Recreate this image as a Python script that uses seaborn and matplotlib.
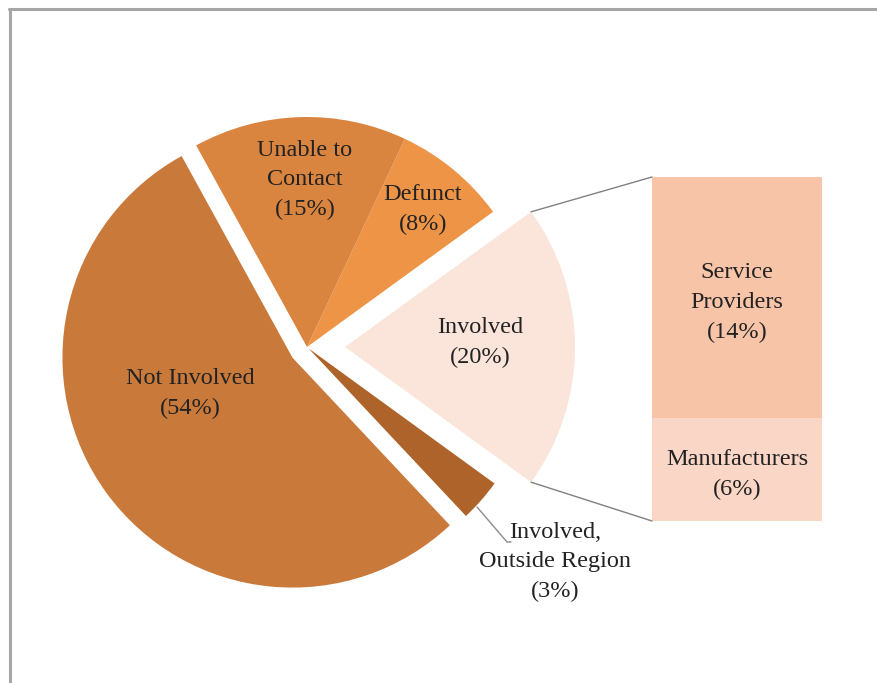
import matplotlib
matplotlib.use("Agg")
import matplotlib.pyplot as plt
from matplotlib.patches import ConnectionPatch
from matplotlib.lines import Line2D
import numpy as np
import seaborn as sns

# Survey outcome shares (percent)
pie_labels = ["Involved", "Defunct", "Unable to\nContact", "Not Involved",
              "Involved,\nOutside Region"]
pie_values = [20, 8, 15, 54, 3]
pie_colors = ["#FBE5DA", "#EE9447", "#DA853F", "#C97A3B", "#AD6329"]
pie_explode = [38, 0, 0, 18, 2]

# Breakdown of the "Involved" share
bar_labels = ["Manufacturers", "Service\nProviders"]
bar_values = [6, 14]
bar_colors = ["#FAD6C6", "#F8C4A8"]

sns.set_theme(style="white")
plt.rcParams["font.family"] = ["Liberation Serif", "DejaVu Serif"]
TEXT = "#222222"
FS = 17.5
LS = 1.55

W, H = 878, 683
fig = plt.figure(figsize=(W / 100, H / 100), dpi=100)
fig.patch.set_facecolor("white")

# Pie axes in pixel units (y up)
ax = fig.add_axes([0, 0, 1, 1])
wedges, _ = ax.pie(pie_values, colors=pie_colors, explode=pie_explode,
                   startangle=-36, counterclock=True, radius=230,
                   center=(307, 336), wedgeprops=dict(linewidth=0),
                   frame=True)
ax.set_xlim(0, W)
ax.set_ylim(0, H)
ax.set_aspect("auto")
ax.axis("off")

def pct(v):
    return f"({v}%)"

pie_text_pos = [(480, 340), (423, 473), (305, 503), (190, 289), (555, 121)]
for lab, v, (tx, ty) in zip(pie_labels, pie_values, pie_text_pos):
    ax.text(tx, ty, f"{lab}\n{pct(v)}", ha="center", va="center",
            fontsize=FS, color=TEXT, linespacing=LS)

# Leader line for the small slice
ax.plot([477, 507, 511], [176, 141, 141], color="#8c8c8c", lw=1.0)

# Stacked bar for the breakdown
ax2 = fig.add_axes([652 / W, 162 / H, 170 / W, 344 / H])
total = sum(bar_values)
bottom = 0
for lab, v, c in zip(bar_labels, bar_values, bar_colors):
    ax2.bar(0, v, bottom=bottom, width=1.0, color=c, linewidth=0)
    ax2.annotate(f"{lab}\n{pct(v)}", xy=(0, bottom + v / 2),
                 xytext=(0, -5), textcoords="offset pixels",
                 ha="center", va="center", fontsize=FS, color=TEXT,
                 linespacing=LS)
    bottom += v
ax2.set_xlim(-0.5, 0.5)
ax2.set_ylim(0, total)
ax2.axis("off")

# Connector lines from the "Involved" wedge to the bar
w = wedges[0]
cx, cy = w.center
for ang, ybar in [(w.theta2, total), (w.theta1, 0)]:
    px = cx + w.r * np.cos(np.deg2rad(ang))
    py = cy + w.r * np.sin(np.deg2rad(ang))
    con = ConnectionPatch(xyA=(px, py), coordsA=ax.transData,
                          xyB=(-0.5, ybar), coordsB=ax2.transData,
                          color="#808080", lw=1.0)
    fig.add_artist(con)

# Chart frame (top and left edges)
fig.add_artist(Line2D([9.5 / W, 1], [1 - 9 / H, 1 - 9 / H],
                      transform=fig.transFigure, color="#a6a6a6", lw=2.2))
fig.add_artist(Line2D([10 / W, 10 / W], [0, 1 - 9 / H],
                      transform=fig.transFigure, color="#a6a6a6", lw=2.2))

fig.savefig("out.png", dpi=100, facecolor="white")
